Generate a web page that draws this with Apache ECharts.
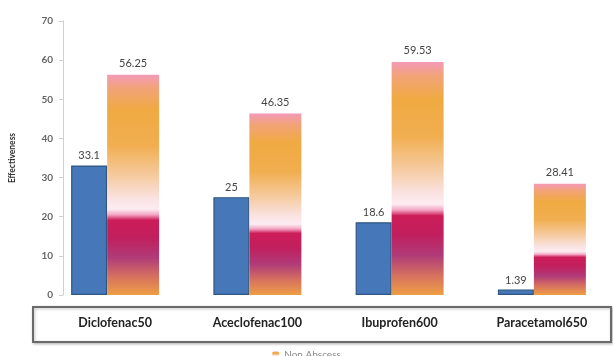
<!DOCTYPE html>
<html>
<head>
<meta charset="utf-8">
<script src="https://cdn.jsdelivr.net/npm/echarts@6/dist/echarts.min.js"></script>
<style>
  html, body { margin: 0; padding: 0; background: #fff; }
  #chart { width: 613px; height: 356px; }
</style>
</head>
<body>
<div id="chart"></div>
<script>
// Drug groups and measured effectiveness
const categories = ['Diclofenac50', 'Aceclofenac100', 'Ibuprofen600', 'Paracetamol650'];
const abscessValues = [33.1, 25, 18.6, 1.39];
const nonAbscessValues = [56.25, 46.35, 59.53, 28.41];
const yTicks = [0, 10, 20, 30, 40, 50, 60, 70];

// Multi-stop fill for the "Non Abscess" bars (top -> bottom)
const nonAbscessFill = new echarts.graphic.LinearGradient(0, 0, 0, 1, [
  { offset: 0.00, color: '#F39AB8' },
  { offset: 0.06, color: '#F2A378' },
  { offset: 0.16, color: '#F0AA42' },
  { offset: 0.32, color: '#F1AE50' },
  { offset: 0.47, color: '#F6CDA6' },
  { offset: 0.56, color: '#FAE2E0' },
  { offset: 0.61, color: '#FCECF2' },
  { offset: 0.635, color: '#F4A6C4' },
  { offset: 0.66, color: '#CC1D58' },
  { offset: 0.74, color: '#C21F5E' },
  { offset: 0.83, color: '#B03B78' },
  { offset: 0.92, color: '#D7735E' },
  { offset: 1.00, color: '#EE9E45' }
]);

const chart = echarts.init(document.getElementById('chart'));
chart.setOption({
  animation: false,
  backgroundColor: '#fff',
  textStyle: { fontFamily: 'Lato, "Liberation Sans", sans-serif' },
  graphic: [{
    type: 'rect',
    left: 32, top: 306,
    shape: { width: 578, height: 35 },
    style: {
      fill: '#fff', stroke: '#6a6a6a', lineWidth: 2,
      shadowBlur: 3, shadowColor: 'rgba(0,0,0,0.25)', shadowOffsetX: 1, shadowOffsetY: 1
    },
    z: -1
  }],
  legend: {
    data: ['Non Abscess'],
    left: 'center',
    top: 345,
    itemWidth: 7, itemHeight: 7,
    itemGap: 4,
    textStyle: { fontSize: 10, color: '#888' }
  },
  grid: { left: 40, width: 580, top: 21, height: 274 },
  xAxis: {
    type: 'category',
    data: categories,
    axisLine: { show: false },
    axisTick: { show: false },
    axisLabel: { margin: 21, fontSize: 12.5, fontWeight: 'bold', color: '#222' }
  },
  yAxis: {
    type: 'value',
    min: yTicks[0], max: yTicks[yTicks.length - 1], interval: 10,
    offset: -19,
    name: 'Effectiveness',
    nameLocation: 'middle',
    nameGap: 46,
    nameTextStyle: { fontSize: 8.5, fontWeight: 'bold', color: '#333' },
    axisLine: { show: true, lineStyle: { color: '#d9cccc', width: 1 } },
    axisTick: { show: true, length: 4, lineStyle: { color: '#d9cccc' } },
    axisLabel: { fontSize: 10, fontWeight: 'bold', color: '#666', margin: 10 },
    splitLine: { show: false }
  },
  series: [
    {
      name: 'Abscess',
      type: 'bar',
      data: abscessValues,
      barWidth: 36,
      barGap: '0%',
      itemStyle: { color: '#4677B8', borderColor: '#2F5680', borderWidth: 1.2 },
      label: { show: true, position: 'top', distance: 4, fontSize: 11, color: '#444' }
    },
    {
      name: 'Non Abscess',
      type: 'bar',
      data: nonAbscessValues,
      barWidth: 52,
      itemStyle: { color: nonAbscessFill },
      label: { show: true, position: 'top', distance: 6, fontSize: 11, color: '#444' }
    }
  ]
});
</script>
</body>
</html>
